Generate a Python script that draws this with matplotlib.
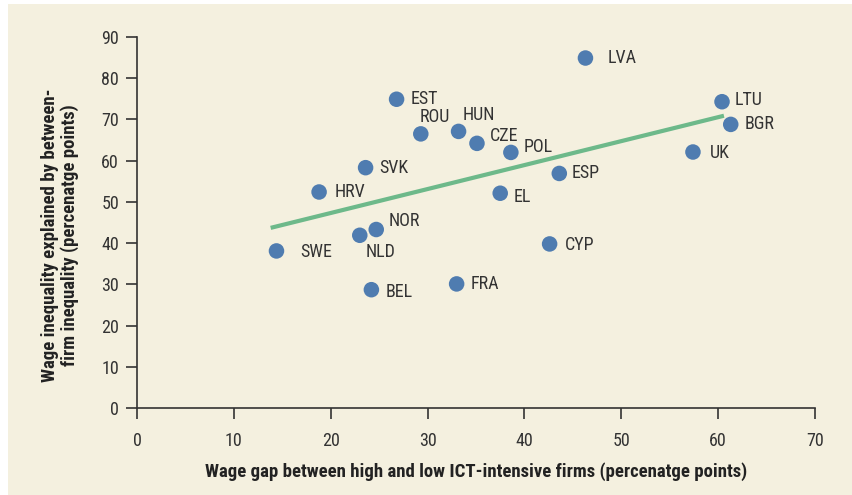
import matplotlib
matplotlib.use("Agg")
import matplotlib.pyplot as plt
from matplotlib.patches import Rectangle

# countries and their values
countries = ["EST", "ROU", "HUN", "CZE", "POL", "SVK", "HRV", "ESP", "EL", "NOR",
             "NLD", "SWE", "CYP", "BEL", "FRA", "LVA", "LTU", "BGR", "UK"]
wage_gap = [26.8, 29.3, 33.2, 35.1, 38.6, 23.6, 18.8, 43.6, 37.5, 24.7,
            23.0, 14.4, 42.6, 24.2, 33.0, 46.3, 60.4, 61.3, 57.4]
between_firm = [74.9, 66.5, 67.1, 64.2, 62.0, 58.3, 52.4, 56.9, 52.1, 43.3,
                41.9, 38.1, 39.8, 28.7, 30.1, 84.9, 74.3, 68.8, 62.1]

# fitted trend line end points
trend_x = [13.8, 60.6]
trend_y = [43.7, 70.9]

# label offsets in points (dx, dy)
offsets = {
    "EST": (10, 0), "ROU": (-1, 12), "HUN": (3, 12), "CZE": (9, 5),
    "POL": (9, 4), "SVK": (10, 0), "HRV": (11, 0), "ESP": (9, 0),
    "EL": (10, -3), "NOR": (9, 6), "NLD": (4, -12), "SWE": (17, -1),
    "CYP": (11, -1), "BEL": (10, -2), "FRA": (10, 0), "LVA": (16, 0),
    "LTU": (9, 1), "BGR": (10, 0), "UK": (12, -1),
}

cream = "#F4F0DF"
text_col = "#333333"
plt.rcParams["font.family"] = ["Roboto Condensed", "DejaVu Sans"]

fig = plt.figure(figsize=(8.53, 4.95), dpi=100, facecolor="white")
fig.patches.append(Rectangle((8 / 853, 0), 1, 1 - 4 / 495, transform=fig.transFigure,
                             facecolor=cream, edgecolor="none", zorder=-10))
ax = fig.add_axes([137 / 853, (495 - 408) / 495, (815 - 137) / 853, (408 - 37) / 495])
ax.set_facecolor(cream)

ax.plot(trend_x, trend_y, color="#6DB98A", lw=3, solid_capstyle="butt", zorder=2)
ax.scatter(wage_gap, between_firm, s=125, color="#4F7CB0", edgecolors="none", zorder=3)

for name, x, y in zip(countries, wage_gap, between_firm):
    dx, dy = offsets[name]
    ax.annotate(name, (x, y), xytext=(dx, dy), textcoords="offset points",
                ha="left", va="center", fontsize=13, color=text_col)

ax.set_xlim(0, 70)
ax.set_ylim(0, 90)
ax.set_xticks(range(0, 71, 10))
ax.set_yticks(range(0, 91, 10))
for s in ["top", "right"]:
    ax.spines[s].set_visible(False)
for s in ["left", "bottom"]:
    ax.spines[s].set_color("#333333")
    ax.spines[s].set_linewidth(1.2)
ax.tick_params(direction="out", length=8, width=1.2, color="#333333",
               labelsize=13, labelcolor=text_col, pad=5)
ax.tick_params(axis="x", pad=9)

ax.set_xlabel("Wage gap between high and low ICT-intensive firms (percenatge points)",
              fontsize=13.5, fontweight="bold", color="#222222", labelpad=9)

# y label sits a bit below the axes centre
fig.text(60 / 853, 1 - 235 / 495,
         "Wage inequality explained by between-\nfirm inequality (percenatge points)",
         rotation=90, ha="center", va="center", multialignment="center",
         fontsize=13.5, fontweight="bold", color="#222222", linespacing=1.1)

fig.savefig("out.png", dpi=100, facecolor=fig.get_facecolor())
